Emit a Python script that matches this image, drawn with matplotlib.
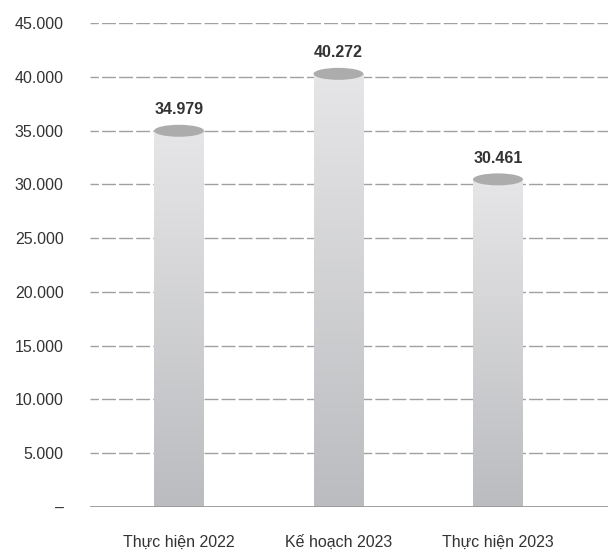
import matplotlib
matplotlib.use("Agg")
import matplotlib.pyplot as plt
import numpy as np
from matplotlib.patches import Ellipse
from matplotlib.ticker import FuncFormatter
from matplotlib.colors import LinearSegmentedColormap

categories = ["Thực hiện 2022", "Kế hoạch 2023", "Thực hiện 2023"]
values = [34979, 40272, 30461]
value_labels = ["34.979", "40.272", "30.461"]
yticks = [0, 5000, 10000, 15000, 20000, 25000, 30000, 35000, 40000, 45000]

plt.rcParams['font.family'] = ['Liberation Sans', 'DejaVu Sans']

fig = plt.figure(figsize=(6.08, 5.5), dpi=100)
ax = fig.add_axes([90/608, 43/550, 1 - 90/608, (507-23)/550])

x = np.arange(len(categories))
width = 0.313

# grid
for t in yticks[1:]:
    ax.axhline(t, color='#a0a0a0', lw=1.0, ls=(4, (10, 2.3)), zorder=1)
ax.axhline(0, color='#9a9a9a', lw=1.3, zorder=5)

grad = np.linspace(0, 1, 256).reshape(-1, 1)
cmap = LinearSegmentedColormap.from_list('g', ['#bbbcbf', '#e6e6e8'])
ell_h = 1115
bars = ax.bar(x, values, width=width, color='none', edgecolor='none', zorder=2)
for xi, v, b, lab in zip(x, values, bars, value_labels):
    im = ax.imshow(grad, cmap=cmap, origin='lower', aspect='auto',
                   extent=[xi - width/2, xi + width/2, 0, v], zorder=2,
                   interpolation='bilinear')
    im.set_clip_path(b)
    e = Ellipse((xi, v), width, ell_h, facecolor='#acacad', edgecolor='none', zorder=3)
    ax.add_patch(e)
    ax.text(xi, v + 1250, lab, ha='center', va='bottom', fontsize=11.5,
            fontweight='bold', color='#333333', zorder=4)
ax.set_xlim(-0.558, 2.69)
ax.set_ylim(0, 45000)

ax.set_yticks(yticks)
ax.yaxis.set_major_formatter(FuncFormatter(lambda v, p: '–' if v == 0 else f"{int(v):,}".replace(',', '.')))
ax.set_xticks(x)
ax.set_xticklabels(categories)
ax.tick_params(axis='y', length=0, pad=19, labelsize=11.5, labelcolor='#333333')
ax.tick_params(axis='x', length=0, pad=20, labelsize=11.5, labelcolor='#333333')
for s in ax.spines.values():
    s.set_visible(False)

fig.savefig('out.png', dpi=100)
